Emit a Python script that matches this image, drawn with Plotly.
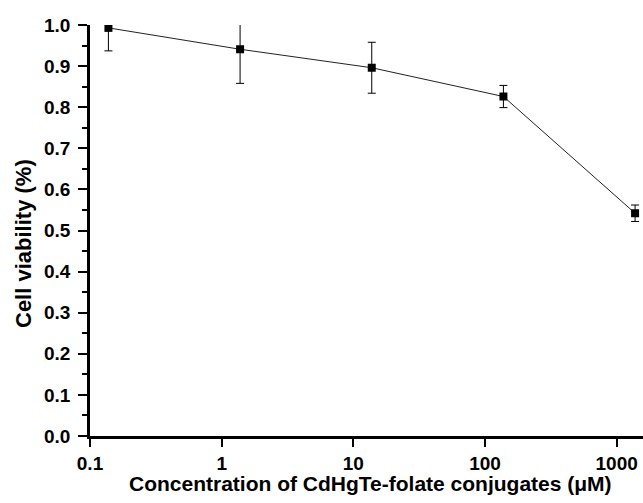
import plotly.graph_objects as go

concentration = [0.138, 1.38, 13.8, 138, 1380]
viability = [0.993, 0.941, 0.896, 0.826, 0.542]
err = [0.056, 0.083, 0.062, 0.027, 0.020]
x_tickvals = [0.1, 1, 10, 100, 1000]
x_ticktext = ["0.1", "1", "10", "100", "1000"]
y_tickvals = [0.0, 0.1, 0.2, 0.3, 0.4, 0.5, 0.6, 0.7, 0.8, 0.9, 1.0]
y_ticktext = ["0.0", "0.1", "0.2", "0.3", "0.4", "0.5", "0.6", "0.7", "0.8", "0.9", "1.0"]

FONT = "Arial, Liberation Sans, Helvetica, sans-serif"

fig = go.Figure()
fig.add_trace(go.Scatter(
    x=concentration, y=viability,
    mode="lines+markers",
    line=dict(color="#222222", width=1),
    marker=dict(symbol="square", size=8, color="black"),
    error_y=dict(type="data", array=err, visible=True, color="black", thickness=1, width=4),
    showlegend=False,
))

fig.update_layout(
    width=643, height=503,
    margin=dict(l=90, r=0, t=25, b=67),
    paper_bgcolor="white", plot_bgcolor="white",
    font=dict(family=FONT, color="black"),
    xaxis=dict(
        type="log", range=[-1, 3.2],
        tickvals=x_tickvals, ticktext=x_ticktext,
        ticks="outside", ticklen=8, tickwidth=2, tickcolor="black",
        showline=True, linewidth=2.5, linecolor="black",
        showgrid=False, zeroline=False,
        tickfont=dict(family=FONT, size=19, color="black", weight="bold"),
    ),
    yaxis=dict(
        range=[0, 1.0],
        tickvals=y_tickvals, ticktext=y_ticktext,
        ticks="outside", ticklen=9, tickwidth=2, tickcolor="black",
        ticklabelstandoff=4,
        minor=dict(dtick=0.05, ticks="outside", ticklen=5, tickwidth=2, tickcolor="black", showgrid=False),
        showline=True, linewidth=2.5, linecolor="black",
        showgrid=False, zeroline=False,
        tickfont=dict(family=FONT, size=19, color="black", weight="bold"),
    ),
    annotations=[
        dict(text="<b>Cell viability (%)</b>", textangle=-90,
             x=23, y=503 - 244, xref="paper", yref="paper",
             showarrow=False, font=dict(family=FONT, size=22, color="black")),
        dict(text="<b>Concentration of CdHgTe-folate conjugates (μM)</b>",
             x=370, y=503 - 483, xref="paper", yref="paper",
             showarrow=False, font=dict(family=FONT, size=21, color="black")),
    ],
)

# convert pixel-based annotation positions to paper coords
pw, ph = 643 - 90 - 0, 503 - 25 - 67
for a in fig.layout.annotations:
    a.x = (a.x - 90) / pw
    a.y = (a.y - 67) / ph
    a.xanchor = "center"
    a.yanchor = "middle"

fig.write_html("out.html")
